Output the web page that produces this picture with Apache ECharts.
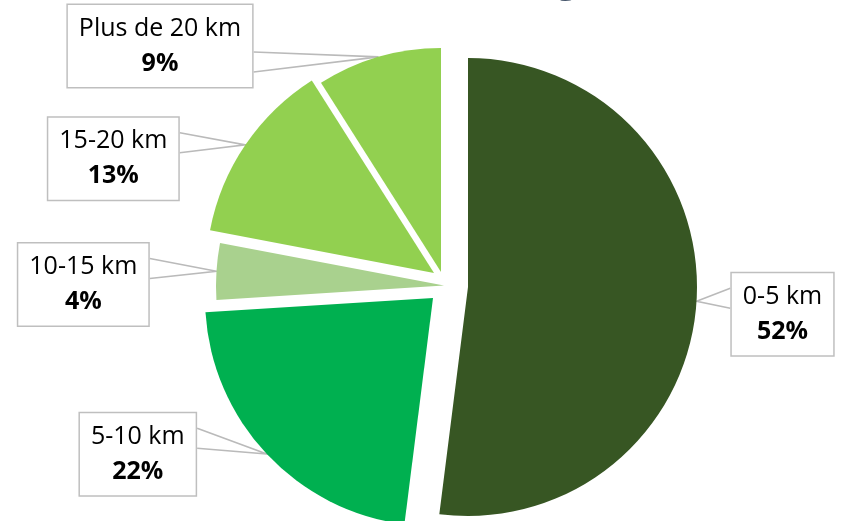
<!DOCTYPE html>
<html>
<head>
<meta charset="utf-8">
<script src="https://cdn.jsdelivr.net/npm/echarts@6/dist/echarts.min.js"></script>
<style>
  html, body { margin: 0; padding: 0; background: #ffffff; }
  #chart { width: 849px; height: 521px; }
</style>
</head>
<body>
<div id="chart"></div>
<script>
// ---- data ----
const categories = ['0-5 km', '5-10 km', '10-15 km', '15-20 km', 'Plus de 20 km'];
const shares = [52, 22, 4, 13, 9];
const sliceColors = ['#375623', '#00B050', '#A9D18E', '#92D050', '#92D050'];

// ---- layout (exploded slice apex, radius, callout box centre) ----
const layout = [
  { center: [468, 287], radius: 229, box: [782.5, 314.3] },
  { center: [433, 298], radius: 228, box: [137.8, 454.2] },
  { center: [444, 285.6], radius: 228, box: [83.3, 284.5] },
  { center: [434, 273], radius: 228, box: [113.3, 158.8] },
  { center: [441, 272], radius: 224, box: [160.0, 46.0] }
];

const chart = echarts.init(document.getElementById('chart'), null, { renderer: 'canvas' });

const series = categories.map(function (cat, i) {
  return {
    type: 'pie',
    center: layout[i].center,
    radius: layout[i].radius,
    startAngle: 90,
    clockwise: true,
    avoidLabelOverlap: false,
    minShowLabelAngle: 0,
    animation: false,
    z: 2,
    label: {
      show: true,
      position: 'outside',
      formatter: function (p) { return '{n|' + p.name + '}\n{p|' + p.value + '%}'; },
      backgroundColor: '#ffffff',
      borderColor: '#BFBFBF',
      borderWidth: 1.5,
      padding: [6, 11, 6, 11],
      rich: {
        n: { fontFamily: 'Open Sans', fontSize: 25, color: '#000000', lineHeight: 35, align: 'center' },
        p: { fontFamily: 'Open Sans', fontSize: 25, fontWeight: 'bold', color: '#000000', lineHeight: 35, align: 'center' }
      }
    },
    labelLine: { show: true, lineStyle: { color: '#BABABA', width: 1.6 } },
    labelLayout: function (params) {
      if (params.dataIndex !== i) { return {}; }
      const bx = layout[i].box[0], by = layout[i].box[1];
      const w = params.labelRect.width, h = params.labelRect.height;
      const tip = params.labelLinePoints ? params.labelLinePoints[0] : [bx, by];
      const ex = tip[0] > bx ? bx + w / 2 : bx - w / 2;
      const y1 = tip[1] > by ? by + 6 : by - 26;
      const y2 = y1 + 20;
      return {
        x: bx, y: by, align: 'center', verticalAlign: 'middle',
        labelLinePoints: [[ex, y1], [tip[0], tip[1]], [ex, y2]]
      };
    },
    emphasis: { disabled: true },
    data: categories.map(function (name, j) {
      if (j === i) {
        return { name: name, value: shares[j], itemStyle: { color: sliceColors[j] } };
      }
      return {
        name: name, value: shares[j],
        itemStyle: { color: 'rgba(0,0,0,0)' },
        label: { show: false }, labelLine: { show: false }
      };
    })
  };
});

chart.setOption({
  backgroundColor: '#ffffff',
  animation: false,
  tooltip: { show: false },
  graphic: [{
    type: 'text',
    left: 556,
    top: -40,
    style: { text: 'g', fontFamily: 'Open Sans', fontSize: 40, fill: '#44546A' }
  }],
  series: series
});
</script>
</body>
</html>
